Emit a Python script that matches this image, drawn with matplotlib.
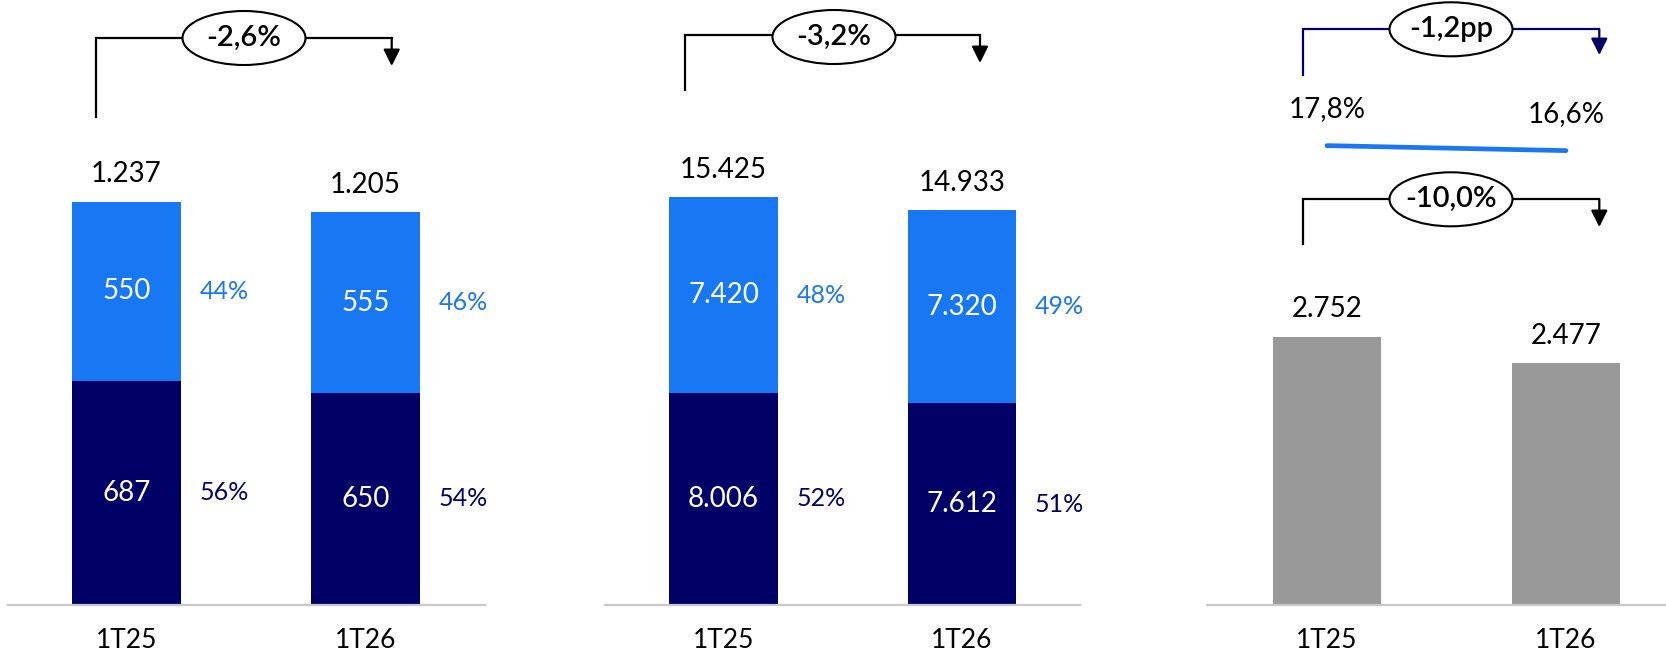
import matplotlib.pyplot as plt
from matplotlib.patches import Ellipse

plt.rcParams['font.family'] = ['Lato', 'DejaVu Sans']

periods = ["1T25", "1T26"]

# panel 1
p1_dark = [687, 650]
p1_light = [550, 555]
p1_total = [1237, 1205]
p1_dark_share = ["56%", "54%"]
p1_light_share = ["44%", "46%"]
p1_change = "-2,6%"

# panel 2
p2_dark = [8006, 7612]
p2_light = [7420, 7320]
p2_total = [15425, 14933]
p2_dark_share = ["52%", "51%"]
p2_light_share = ["48%", "49%"]
p2_change = "-3,2%"

# panel 3
p3_values = [2752, 2477]
p3_margin = [17.8, 16.6]
p3_margin_change = "-1,2pp"
p3_change = "-10,0%"

LIGHT = "#1877f2"
NAVY = "#000066"
GREY = "#999999"

W, H = 1666, 654
BASE = 604.6  # baseline, px from top

fig = plt.figure(figsize=(W / 100, H / 100), dpi=100)


def fmt(v):
    return f"{v:,}".replace(",", ".")


def yf(p):
    # px from top -> axes fraction
    return (BASE - p) / BASE


def make_ax(left, right, c0, c1, ymax):
    sp = c1 - c0
    ax = fig.add_axes([left / W, (H - BASE) / H, (right - left) / W, BASE / H])
    ax.set_xlim((left - c0) / sp, (right - c0) / sp)
    ax.set_ylim(0, ymax)
    for s in ["top", "left", "right"]:
        ax.spines[s].set_visible(False)
    ax.spines["bottom"].set_color("#c8c8c8")
    ax.spines["bottom"].set_linewidth(1.6)
    ax.set_xticks([])
    ax.set_yticks([])
    ax.patch.set_alpha(0)
    tr = ax.get_xaxis_transform()
    for i, lab in enumerate(periods):
        ax.text(i, yf(648), lab, transform=tr, ha="center", va="baseline", fontsize=19)
    return ax, sp


def bracket(ax, sp, x0, x1, xe, y_start, y_line, y_tip, ye, label, color="black"):
    tr = ax.get_xaxis_transform()
    ax.plot([x0, x0, x1], [yf(y_start), yf(y_line), yf(y_line)], color=color, lw=1.6,
            transform=tr, clip_on=False, solid_joinstyle="miter")
    ax.annotate("", xy=(x1, yf(y_tip)), xytext=(x1, yf(y_line)), xycoords=tr, textcoords=tr,
                arrowprops=dict(arrowstyle="-|>,head_length=0.5,head_width=0.25", color=color,
                                lw=1.6, mutation_scale=20, shrinkA=0, shrinkB=0),
                annotation_clip=False)
    ax.add_patch(Ellipse((xe, yf(ye)), 123 / sp, 54 / BASE, transform=tr, facecolor="white",
                         edgecolor="black", lw=1.5, clip_on=False, zorder=4))
    ax.text(xe, yf(ye), label, transform=tr, ha="center", va="center", fontsize=21,
            fontweight="semibold", zorder=5)


def stacked(ax, sp, dark, light, total, dark_share, light_share):
    w = 108.4 / sp
    x = range(len(dark))
    ax.bar(x, dark, width=w, color=NAVY)
    ax.bar(x, light, width=w, bottom=dark, color=LIGHT)
    for i in x:
        ax.text(i, dark[i] / 2, fmt(dark[i]), ha="center", va="center", color="white", fontsize=20)
        ax.text(i, dark[i] + light[i] / 2, fmt(light[i]), ha="center", va="center",
                color="white", fontsize=20)
        ax.text(i + 0.41, dark[i] / 2, dark_share[i], ha="center", va="center", color=NAVY,
                fontsize=18)
        ax.text(i + 0.41, dark[i] + light[i] / 2, light_share[i], ha="center", va="center",
                color=LIGHT, fontsize=18)
        ax.annotate(fmt(total[i]), xy=(i, dark[i] + light[i]), xytext=(0, 14),
                    textcoords="offset points", ha="center", va="baseline", fontsize=20)


# panel 1
ax1, sp1 = make_ax(8, 485, 126.5, 365.5, 1857)
stacked(ax1, sp1, p1_dark, p1_light, p1_total, p1_dark_share, p1_light_share)
bracket(ax1, sp1, (96 - 126.5) / sp1, (391.7 - 126.5) / sp1, (244 - 126.5) / sp1,
        117, 38, 66, 38, p1_change)

# panel 2
ax2, sp2 = make_ax(605, 1080, 723.6, 961.8, 22880)
stacked(ax2, sp2, p2_dark, p2_light, p2_total, p2_dark_share, p2_light_share)
bracket(ax2, sp2, (684.5 - 723.6) / sp2, (980 - 723.6) / sp2, (834 - 723.6) / sp2,
        90, 35, 63, 37, p2_change)

# panel 3
ax3, sp3 = make_ax(1207, 1666, 1327, 1566, 6210)
ax3.bar(range(2), p3_values, width=108.4 / sp3, color=GREY)
for i, v in enumerate(p3_values):
    ax3.annotate(fmt(v), xy=(i, v), xytext=(0, 14), textcoords="offset points",
                 ha="center", va="baseline", fontsize=20)
bracket(ax3, sp3, (1303.3 - 1327) / sp3, (1599.3 - 1327) / sp3, (1451 - 1327) / sp3,
        75, 29.3, 55, 29.3, p3_margin_change, color=NAVY)
bracket(ax3, sp3, (1303.3 - 1327) / sp3, (1599.3 - 1327) / sp3, (1451 - 1327) / sp3,
        244.3, 199.3, 227, 199.3, p3_change)

# margin line on its own scale
axm = ax3.twinx()
axm.set_ylim(-92.2, 52.7)
axm.axis("off")
axm.plot(range(2), p3_margin, color=LIGHT, lw=3.4, solid_capstyle="round", clip_on=False)
for i, m in enumerate(p3_margin):
    axm.annotate(f"{m:.1f}%".replace(".", ","), xy=(i, m), xytext=(0, 26),
                 textcoords="offset points", ha="center", va="center", fontsize=20)

fig.savefig("out.png", dpi=100)
